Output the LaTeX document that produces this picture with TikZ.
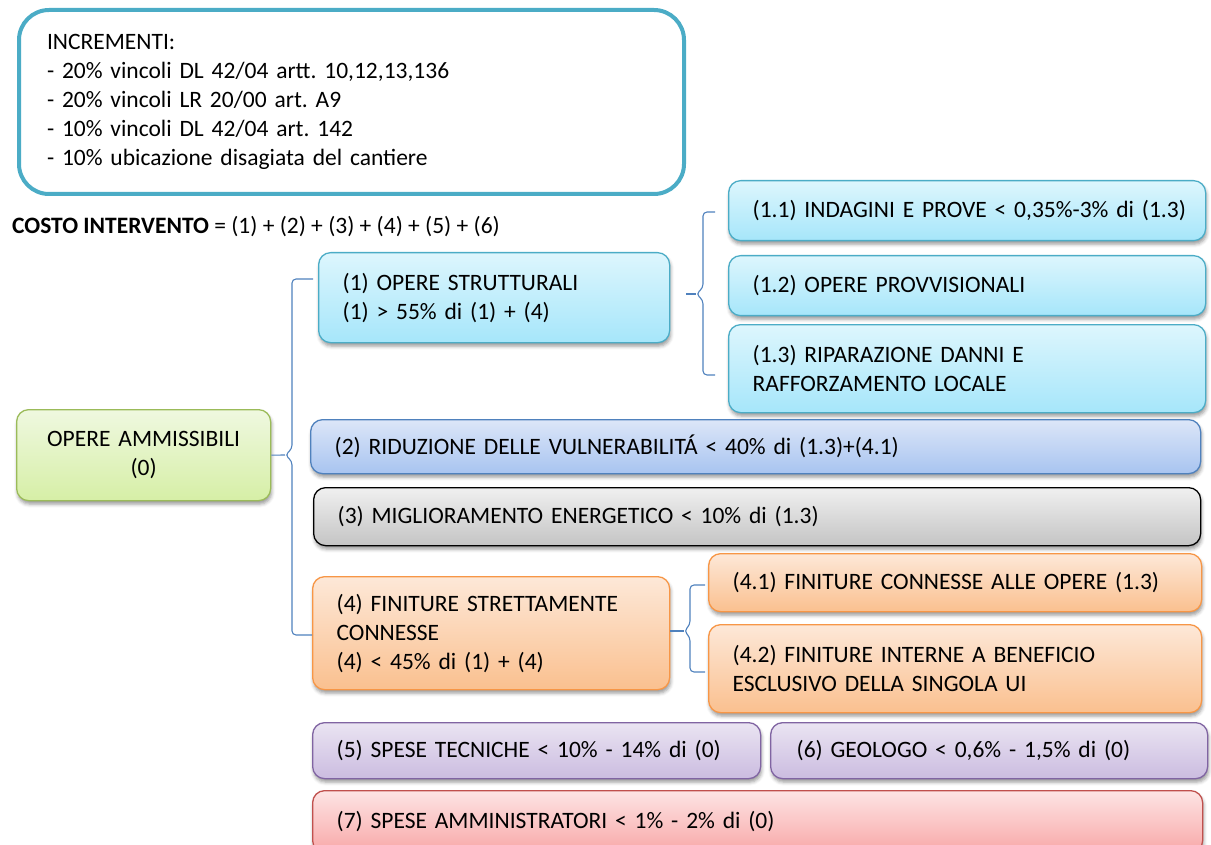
\documentclass[tikz,border=0pt]{standalone}
\usepackage{fontspec}
\setmainfont{Carlito}
\usetikzlibrary{shadows.blur}
\frenchspacing

\definecolor{cyanE}{HTML}{4BACC6}
\definecolor{cyanT}{HTML}{DDF6FD}
\definecolor{cyanB}{HTML}{A6E6FA}
\definecolor{greenE}{HTML}{9BBB59}
\definecolor{greenT}{HTML}{EFF8E0}
\definecolor{greenB}{HTML}{D6EFA6}
\definecolor{blueE}{HTML}{4F81BD}
\definecolor{blueT}{HTML}{DCE6F8}
\definecolor{blueB}{HTML}{A8C4F0}
\definecolor{grayT}{HTML}{F0F0F0}
\definecolor{grayB}{HTML}{C4C4C4}
\definecolor{orangeE}{HTML}{F79646}
\definecolor{orangeT}{HTML}{FDE8D8}
\definecolor{orangeB}{HTML}{FAC08F}
\definecolor{purpleE}{HTML}{8064A2}
\definecolor{purpleT}{HTML}{EAE4F2}
\definecolor{purpleB}{HTML}{CBBCE0}
\definecolor{redE}{HTML}{C0504D}
\definecolor{redT}{HTML}{FDE4E4}
\definecolor{redB}{HTML}{F8A8A8}

\tikzset{
  bx/.style={rounded corners=12pt, line width=1.3pt, anchor=north west,
    align=left, inner xsep=24pt, inner ysep=0pt,
    blur shadow={shadow xshift=1pt, shadow yshift=-3.5pt,
      shadow blur radius=3.5pt, shadow opacity=40}},
  cyanbox/.style={bx, draw=cyanE, top color=cyanT, bottom color=cyanB},
  greenbox/.style={bx, draw=greenE, top color=greenT, bottom color=greenB},
  bluebox/.style={bx, draw=blueE, top color=blueT, bottom color=blueB},
  graybox/.style={bx, draw=black, top color=grayT, bottom color=grayB},
  orangebox/.style={bx, draw=orangeE, top color=orangeT, bottom color=orangeB},
  purplebox/.style={bx, draw=purpleE, top color=purpleT, bottom color=purpleB},
  redbox/.style={bx, draw=redE, top color=redT, bottom color=redB},
  brc/.style={draw=blueE, line width=1.1pt, rounded corners=4pt},
}

\begin{document}
\begin{tikzpicture}[x=1pt, y=-1pt, font=\fontsize{23.5}{29}\selectfont]
\useasboundingbox (0,0) rectangle (1211,845);

% increments box
\node[draw=cyanE, line width=4pt, rounded corners=30pt, fill=white,
  anchor=north west, align=left, inner xsep=28pt, inner ysep=0pt,
  text width=609pt, minimum height=184pt] (incr) at (17,8)
  {INCREMENTI:\\
   - 20\% vincoli DL 42/04 artt. 10,12,13,136\\
   - 20\% vincoli LR 20/00 art. A9\\
   - 10\% vincoli DL 42/04 art. 142\\
   - 10\% ubicazione disagiata del cantiere};

% total cost formula
\node[anchor=west, inner sep=0pt] (costo) at (12,227)
  {\textbf{COSTO INTERVENTO} = (1) + (2) + (3) + (4) + (5) + (6)};

% root
\node[greenbox, align=center, inner xsep=0pt, text width=254pt,
  minimum height=91pt] (amm) at (16,409) {OPERE AMMISSIBILI\\(0)};

% structural works and sub-items
\node[cyanbox, text width=303pt, minimum height=90pt] (op1) at (318,252)
  {(1) OPERE STRUTTURALI\\(1) > 55\% di (1) + (4)};
\node[cyanbox, text width=429pt, minimum height=60pt] (p11) at (728,180)
  {\mbox{(1.1) INDAGINI E PROVE < 0,35\%-3\% di (1.3)}};
\node[cyanbox, text width=429pt, minimum height=60pt] (p12) at (728,255)
  {(1.2) OPERE PROVVISIONALI};
\node[cyanbox, text width=429pt, minimum height=88pt] (p13) at (728,324)
  {(1.3) RIPARAZIONE DANNI E\\RAFFORZAMENTO LOCALE};

% other categories
\node[bluebox, text width=842pt, minimum height=54pt] (op2) at (310,419)
  {(2) RIDUZIONE DELLE VULNERABILITÁ < 40\% di (1.3)+(4.1)};
\node[graybox, text width=839pt, minimum height=58pt] (op3) at (313,487)
  {(3) MIGLIORAMENTO ENERGETICO < 10\% di (1.3)};

% finishes and sub-items
\node[orangebox, text width=309pt, minimum height=113pt] (op4) at (312,576)
  {\mbox{(4) FINITURE STRETTAMENTE}\\CONNESSE\\(4) < 45\% di (1) + (4)};
\node[orangebox, text width=445pt, minimum height=58pt] (p41) at (708,553)
  {\mbox{(4.1) FINITURE CONNESSE ALLE OPERE (1.3)}};
\node[orangebox, text width=445pt, minimum height=88pt] (p42) at (708,624)
  {(4.2) FINITURE INTERNE A BENEFICIO\\ESCLUSIVO DELLA SINGOLA UI};

% expenses
\node[purplebox, text width=400pt, minimum height=56pt] (op5) at (312,722)
  {\mbox{(5) SPESE TECNICHE < 10\% - 14\% di (0)}};
\node[purplebox, inner xsep=26pt, text width=385pt, minimum height=56pt] (op6) at (770,722)
  {(6) GEOLOGO < 0,6\% - 1,5\% di (0)};
\node[redbox, text width=842pt, minimum height=62pt] (op7) at (312,790)
  {(7) SPESE AMMINISTRATORI < 1\% - 2\% di (0)};

% main brace: root -> (1) ... (4)
\draw[brc] ([xshift=-5pt]op1.west |- 0,279) -- (292,279) -- (292,449)
  -- (285,455) -- (292,461) -- (292,635) -- (op4.west |- 0,635);
\draw[brc] (amm.east) -- (285,455);

% brace (1) -> (1.1) ... (1.3)
\draw[brc] ([xshift=-13pt]p11.west |- 0,212) -- (703,212) -- (703,288)
  -- (696,294) -- (703,300) -- (703,375) -- ([xshift=-13pt]p13.west |- 0,375);
\draw[brc] ([xshift=16pt]op1.east |- 0,294) -- (696,294);

% brace (4) -> (4.1), (4.2)
\draw[brc] ([xshift=-3pt]p41.west |- 0,585) -- (690,585) -- (690,625)
  -- (684,631) -- (690,637) -- (690,672) -- ([xshift=-3pt]p42.west |- 0,672);
\draw[brc] (op4.east |- 0,631) -- (684,631);
\end{tikzpicture}
\end{document}
